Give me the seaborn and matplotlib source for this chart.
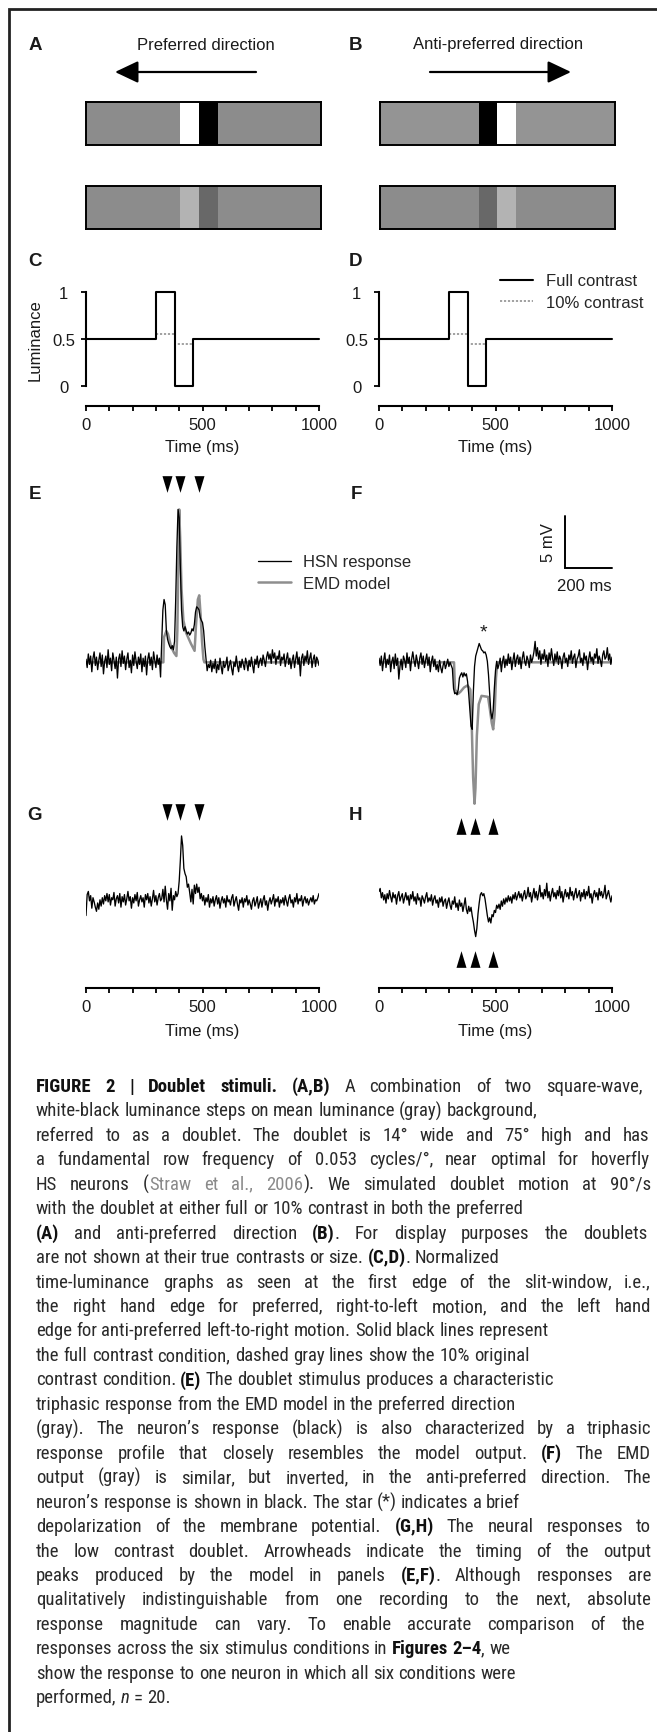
import re
import numpy as np
import seaborn as sns
import matplotlib.pyplot as plt
from matplotlib import font_manager

W, H, DPI = 657, 1733, 100

# ---------------- data ----------------
# doublet stripes: (luminance shown, width in stripe units)
pref_full = [(0.55, 20), (1.0, 4), (0.0, 4), (0.55, 22)]
pref_low = [(0.55, 20), (0.70, 4), (0.41, 4), (0.55, 22)]
anti_full = [(0.58, 21), (0.0, 4), (1.0, 4), (0.58, 21)]
anti_low = [(0.55, 21), (0.41, 4), (0.70, 4), (0.55, 21)]

# time-luminance at the first edge of the slit-window
lum_time = [0, 300, 380, 460, 1000]
lum_full = [0.5, 1.0, 0.0, 0.5, 0.5]
lum_low_time = [300, 380, 460]
lum_low = [0.55, 0.45, 0.45]

# recorded HSN responses (mV), one sample every 5 ms from 0 to 1000 ms
trace_time = np.arange(0, 1001, 5)
hsn_e = [
    0.3, -0.5, 0.8, -0.2, 0.6, -0.9, 0.4, 1.0, -0.3, 0.5,
    -0.7, 0.2, 0.9, -0.4, 0.7, -1.1, 0.1, 0.6, -0.5, 1.2,
    -0.2, 0.4, -0.8, 0.9, 0.2, -0.6, 0.5, -1.5, 0.3, 0.8,
    -0.4, 1.1, -0.1, 0.6, -0.7, 0.3, 0.9, -0.5, 0.2, -1.0,
    0.7, -0.3, 1.0, 0.1, -0.6, 0.5, -0.2, 0.8, -0.9, 0.4,
    -0.4, 0.6, -1.2, 0.3, 0.9, -0.3, 0.5, -0.7, 1.0, 0.2,
    -0.5, 0.7, -0.2, 0.4,
    -1.4, 2.0, 5.0, 6.0, 5.5, 3.0, 2.2, 1.8, 1.5, 1.3,
    1.6, 1.2, 2.0, 6.0, 11.0, 14.6, 13.8, 9.0, 5.0, 3.4,
    3.0, 3.4, 3.0, 2.7, 2.9, 2.6, 2.8, 3.2, 3.0, 3.6,
    4.8, 5.3, 5.2, 5.0, 4.3, 4.0, 3.8, 3.0, 1.5, 0.4,
    -0.8, -0.2,
    -0.5, 0.2, -0.9, -0.1, -0.6, 0.3, -1.0, -0.2, -0.7, 0.4,
    -0.4, -1.1, 0.1, -0.5, -0.2, 0.5, -0.8, -0.3, 0.2, -0.6,
    -1.2, 0.0, -0.4, 0.6, -0.3, -0.9, 0.1, -0.5, 0.3, -0.2,
    -0.7, 0.4, -0.1, -0.8, 0.2, -0.4, 0.5, -0.3, -1.0, 0.3,
    -0.2, 0.6, -0.5, 0.1, 0.4, -0.3, 0.7, 0.2, -0.4, 0.5,
    1.0, 0.3, 0.8, -0.1, 1.2, 0.4, 0.9, -0.2, 0.6, 0.3,
    1.1, -0.3, 0.5, 0.2, 0.8, -0.4, 0.3, 0.9, -0.2, 0.4,
    -0.6, 0.2, 0.7, -0.5, 0.3, 1.0, -0.2, 0.5, -1.3, 0.4,
    0.8, -0.3, 0.6, 0.1, 1.1, -0.2, 0.4, 0.9, -0.5, 0.3,
    0.7, -0.4, 0.5, 0.2, -0.3,
]
hsn_f = [
    0.4, -0.3, 0.6, -0.8, 0.2, 0.9, -0.5, 0.3, -0.2, 0.7,
    -0.9, 0.1, 0.5, -0.6, 0.8, -0.3, 0.4, -1.6, -0.4, 0.3,
    -0.7, 0.6, 0.2, -0.5, 0.9, -0.1, 0.5, -0.8, 0.3, 1.0,
    0.2, -0.4, 0.7, 0.1, -0.6, 0.4, 0.9, -0.2, 0.6, -0.5,
    0.2, 0.8, -0.3, 0.5, -0.9, 0.1, 0.6, -0.4, 0.3, -0.7,
    -0.2, -0.9, 0.2, -0.5, -1.0, -0.3, 0.1, -0.6, -0.2, 0.3,
    -0.4, 0.0, -0.3,
    -0.6, -2.5, -3.0, -2.9, -3.1, -2.6, -1.5, -1.2, -1.0, -1.4,
    -1.0, -1.3, -1.1, -1.8, -3.0, -4.5, -6.1, -6.4, -2.8, -0.4,
    0.6, 1.0, 1.4, 1.8, 1.5, 1.2, 1.1, 0.9, 1.0, 0.7,
    0.1, -1.2, -3.0, -4.8, -5.4, -4.6, -2.5, -0.8, 0.1, -0.6,
    -0.2, 0.4, -0.9, 0.1, 0.6, -0.5, 0.3, -0.3, 0.8, -0.1,
    0.5, -0.7, 0.2, 0.9, -0.4, 0.3, 0.7, -0.2, 0.5, -0.6,
    0.4, 1.0, 0.1, -0.3, 0.6, 0.2, -0.5, 0.7, 0.0, 0.4,
    1.0, 2.0, 0.6, 1.4, 0.3, 1.1, -0.2, 0.8, 0.3, 1.2,
    0.1, 0.7, -0.4, 0.9, 0.2, 1.3, 0.4, -0.3, 0.8, 0.1,
    1.0, -0.2, 0.6, 0.3, -0.6, 0.5, 0.9, 0.0, 0.4, -0.4,
    0.7, 0.2, 1.1, -0.1, 0.5, 0.8, -0.5, 0.3, 0.6, 1.2,
    0.0, 0.4, -0.3, 0.9, 0.2, 0.6, -0.7, 0.3, 1.0, 0.1,
    0.5, -0.2, 0.8, 0.4, 1.3, -0.1, 0.6, 0.2, -0.4, 0.7,
    1.1, 0.3, 0.5, 1.4, 0.2, 0.8, -0.2, 0.5,
]
hsn_g = [
    -1.1, 0.9, 1.2, 0.3, 0.8, -0.4, 0.6, 0.2, -0.3, -0.7,
    0.1, -0.5, 0.4, -0.2, 0.6, 0.0, 0.8, 0.3, 1.0, 0.2,
    0.9, -0.1, 0.6, 0.4, 1.1, -0.2, 0.5, 0.8, 0.1, 1.0,
    -0.3, 0.7, 0.2, 0.9, -0.1, 0.5, 1.2, 0.3, 0.7, -0.4,
    0.6, 0.1, 0.9, 0.3, 1.1, -0.2, 0.4, 0.8, 0.2, 0.6,
    -0.3, 0.9, 0.4, 1.0, 0.1, 0.7, -0.2, 0.5, 1.3, 0.2,
    0.8, -0.1, 0.6, 1.0, 0.3, 0.5, 1.4, 0.2, 1.7, 0.4,
    -0.5, 1.0,
    0.3, 1.5, -0.6, 0.8, 0.4, 1.2, 0.7, 1.0, 2.2, 4.2,
    6.5, 5.6, 3.4, 2.9, 2.6, 1.6, 1.9, 1.1, 0.2, 1.4,
    0.0, 1.8, 1.0, 1.9, 1.1, 1.6, 0.5,
    1.0, 0.3, 0.8, -0.1, 0.6, 0.2, 0.9, -0.3, 0.5, 0.1,
    0.7, -0.2, 0.4, 0.8, 0.0, 0.6, -0.4, 0.3, 0.7, 0.1,
    0.5, -0.3, 0.8, 0.2, 0.4, -0.1, 0.6, 0.9, -0.2, 0.3,
    0.7, 0.0, -0.6, 0.4, 0.1, 0.6, -0.3, 0.5, 0.2, 0.8,
    -0.1, 0.4, 0.0, -0.5, 0.3, 0.6, -0.2, 0.2, 0.7, -0.4,
    0.1, 0.5, -0.3, 0.4, 0.8, -0.1, 0.3, -0.6, 0.2, 0.6,
    0.0, 0.4, 0.9, -0.2, 0.5, 0.2, 0.7, -0.3, 0.4, 0.1,
    0.6, -0.1, 0.8, 0.3, -0.2, 0.5, 0.9, 0.1, 0.4, -0.3,
    0.6, 0.2, 1.0, 0.0, 0.5, 0.3, 0.8, -0.2, 0.4, 0.7,
    0.1, 0.5, -0.1, 0.3, 0.6, 0.2, 0.8, 0.0, 0.4, 0.3,
    0.6, 1.0,
]
hsn_h = [
    0.9, 1.2, 0.3, 0.8, 0.1, 0.6, -0.2, 0.7, 0.2, 1.0,
    0.4, -0.1, 0.8, 0.3, 0.6, -0.3, 0.5, 0.9, 0.0, 0.4,
    0.7, -0.2, 0.3, 0.8, 0.1, 0.5, -0.4, 0.6, 0.2, 0.9,
    0.0, 0.4, -0.3, 0.7, 0.1, 0.3, -0.5, 0.5, 0.2, -0.2,
    0.4, 0.8, -0.1, 0.3, 0.0, 0.6, -0.4, 0.2, 0.5, -0.2,
    0.1, -0.6, 0.3, -0.1, 0.4, -0.5, 0.0, 0.2, -0.7, -0.1,
    0.3, -0.4, -0.8, 0.0, -0.3, 0.4, -0.6, -0.2, -0.9, 0.1,
    -0.5, -0.2, -1.0, -0.4, 0.3,
    -0.8, -1.2, -0.5, -1.0, -0.6, -1.4, -2.0, -2.8, -3.4, -2.6,
    -1.2, -0.2, 0.6, 0.8, 0.5, 0.7, 0.2, -0.6, -1.4, -2.0,
    -1.6, -2.1, -1.3, -1.5, -0.9, -1.1, -0.4, -0.7,
    -0.3, -0.8, 0.0, -0.5, 0.2, -0.3, 0.3, -0.1, 0.5, 0.0,
    0.4, -0.2, 0.6, 0.2, 0.8, 0.1, 0.5, 0.9, 0.3, 0.7,
    0.0, 0.6, 1.0, 0.2, 0.5, 1.3, 0.4, 0.8, -0.1, 0.6,
    1.2, 0.3, 0.9, 0.1, 0.7, 1.5, 0.4, 0.8, 0.2, 1.1,
    0.5, 1.7, 0.3, 0.9, 0.0, 0.7, 1.2, 0.4, 0.8, 0.2,
    1.0, 0.5, 1.4, 0.3, 0.9, -0.1, 0.6, 1.1, 0.4, 0.8,
    0.2, 1.3, 0.5, 0.9, 0.1, 0.7, 1.2, 0.3, 0.6, 1.0,
    0.0, 0.8, 0.4, 1.1, 0.2, 0.9, 0.5, 1.4, 0.3, 0.7,
    -0.2, 0.6, 1.0, 0.4, 0.8, 0.1, 1.2, 0.5, 0.9, 0.3,
    0.7, 1.5, 0.2, 0.6, 1.0, 0.4, -0.1, 0.5,
]

# EMD model output (mV)
model_e_time = [0, 332, 335, 345, 352, 365, 378, 388, 392, 396, 400, 404, 410,
                418, 430, 450, 466, 472, 480, 486, 492, 498, 504, 508, 1000]
model_e_mv = [0, 0, 2.4, 3.0, 2.7, 1.5, 0.9, 0.6, 3.0, 9.0, 14.6, 12.0, 7.0,
              4.0, 2.8, 1.8, 1.1, 3.5, 6.0, 6.4, 4.5, 2.0, 0.3, 0, 0]
model_f_time = [0, 322, 326, 340, 350, 365, 380, 392, 398, 404, 410, 414, 420,
                428, 440, 468, 476, 484, 490, 496, 502, 508, 1000]
model_f_mv = [0, 0, -2.6, -3.0, -2.8, -2.4, -2.2, -2.6, -6.0, -11.0, -13.5, -12.0, -7.0,
              -4.0, -3.2, -3.3, -4.5, -5.8, -6.4, -5.0, -1.5, 0, 0]

# model output peaks (arrowheads), ms
peaks_pref = [346, 403, 484]
peaks_anti = [353, 411, 488]

scale_mv, scale_ms = 5, 200

caption_lines = [
    "**FIGURE 2 | Doublet stimuli. (A,B)** A combination of two square-wave,",
    "white-black luminance steps on mean luminance (gray) background,",
    "referred to as a doublet. The doublet is 14° wide and 75° high and has",
    "a fundamental row frequency of 0.053 cycles/°, near optimal for hoverfly",
    "HS neurons (~~Straw et al., 2006~~). We simulated doublet motion at 90°/s",
    "with the doublet at either full or 10% contrast in both the preferred",
    "**(A)** and anti-preferred direction **(B)**. For display purposes the doublets",
    "are not shown at their true contrasts or size. **(C,D)**. Normalized",
    "time-luminance graphs as seen at the first edge of the slit-window, i.e.,",
    "the right hand edge for preferred, right-to-left motion, and the left hand",
    "edge for anti-preferred left-to-right motion. Solid black lines represent",
    "the full contrast condition, dashed gray lines show the 10% original",
    "contrast condition. **(E)** The doublet stimulus produces a characteristic",
    "triphasic response from the EMD model in the preferred direction",
    "(gray). The neuron’s response (black) is also characterized by a triphasic",
    "response profile that closely resembles the model output. **(F)** The EMD",
    "output (gray) is similar, but inverted, in the anti-preferred direction. The",
    "neuron’s response is shown in black. The star (*) indicates a brief",
    "depolarization of the membrane potential. **(G,H)** The neural responses to",
    "the low contrast doublet. Arrowheads indicate the timing of the output",
    "peaks produced by the model in panels **(E,F)**. Although responses are",
    "qualitatively indistinguishable from one recording to the next, absolute",
    "response magnitude can vary. To enable accurate comparison of the",
    "responses across the six stimulus conditions in **Figures 2–4**, we",
    "show the response to one neuron in which all six conditions were",
    "performed,  __n__ = 20.",
]
caption_right = [643, 568, 649, 650, 651, 616, 647, 582, 651, 651, 630, 618, 633,
                 618, 651, 651, 651, 578, 651, 651, 651, 651, 645, 511, 620, None]

# ---------------- style ----------------
sns.set_theme(style="ticks")
plt.rcParams["font.family"] = ["Liberation Sans", "DejaVu Sans"]
GRAY = "#8e8e8e"
INK = "#1a1a1a"
FS = 12

fig = plt.figure(figsize=(W / DPI, H / DPI), dpi=DPI, facecolor="white")
renderer = fig.canvas.get_renderer()


def add_ax(left, top, width, height, **kw):
    ax = fig.add_axes([left / W, 1 - (top + height) / H, width / W, height / H], **kw)
    ax.patch.set_visible(False)
    return ax


def fy(y):
    return 1 - y / H


# overlay for frame and arrows
ax0 = add_ax(0, 0, W, H, zorder=-1)
ax0.set_xlim(0, W)
ax0.set_ylim(H, 0)
ax0.axis("off")
ax0.plot([9, 9, W], [H, 10, 10], color="#222222", lw=2.0, solid_joinstyle="miter")

arrow_kw = dict(arrowstyle="-|>,head_length=0.95,head_width=0.45", mutation_scale=15,
                lw=1.6, color="black", shrinkA=0, shrinkB=0)
ax0.annotate("", xy=(115, 73), xytext=(256, 73), arrowprops=arrow_kw)
ax0.annotate("", xy=(571, 73), xytext=(430, 73), arrowprops=arrow_kw)
fig.text(206 / W, fy(45), "Preferred direction", ha="center", va="center", fontsize=FS, color=INK)
fig.text(498 / W, fy(44), "Anti-preferred direction", ha="center", va="center", fontsize=FS, color=INK)

for lab, x, y in [("A", 35, 45), ("B", 356, 45), ("C", 35, 262), ("D", 356, 262),
                  ("E", 35, 495), ("F", 356, 495), ("G", 35, 815), ("H", 356, 815)]:
    fig.text(x / W, fy(y), lab, fontsize=13.5, fontweight="bold", ha="center", va="center", color=INK)

# ---------------- A, B stimuli ----------------
for left, top, prof in [(86, 103, pref_full), (86, 187, pref_low),
                        (380, 103, anti_full), (380, 187, anti_low)]:
    ax = add_ax(left, top, 235, 43)
    row = np.repeat([p[0] for p in prof], [p[1] for p in prof])[None, :]
    sns.heatmap(row, ax=ax, cmap="gray", vmin=0, vmax=1, cbar=False,
                xticklabels=False, yticklabels=False)
    for s in ax.spines.values():
        s.set_visible(True)
        s.set_linewidth(1.4)
        s.set_color("black")

# ---------------- C, D luminance ----------------
for left, first in [(86, True), (379, False)]:
    ax = add_ax(left, 293, 233, 94)
    sns.lineplot(x=lum_low_time, y=lum_low, ax=ax, color="#9a9a9a", lw=1.3,
                 linestyle=(0, (1.2, 1.0)), drawstyle="steps-post", estimator=None,
                 legend=False, zorder=1, label="10% contrast")
    sns.lineplot(x=lum_time, y=lum_full, ax=ax, color="black", lw=1.5,
                 drawstyle="steps-post", estimator=None, legend=False, clip_on=False,
                 zorder=2, label="Full contrast")
    ax.set_xlim(0, 1000)
    ax.set_ylim(0, 1)
    ax.spines["top"].set_visible(False)
    ax.spines["right"].set_visible(False)
    ax.spines["bottom"].set_position(("outward", 14.4))
    for s in ("left", "bottom"):
        ax.spines[s].set_linewidth(1.5)
        ax.spines[s].set_color("black")
    ax.set_xticks([0, 500, 1000])
    ax.set_xticks(range(0, 1001, 100), minor=True)
    ax.set_yticks([0, 0.5, 1])
    ax.set_yticklabels(["0", "0.5", "1"])
    ax.tick_params(which="both", direction="out", length=3.6, width=1.3, labelsize=FS,
                   colors="black", labelcolor=INK, bottom=True, left=True)
    ax.tick_params(axis="x", pad=4)
    ax.tick_params(axis="y", pad=12.5)
    for t in ax.get_yticklabels():
        t.set_ha("center")
    ax.set_xlabel("Time (ms)", fontsize=FS, color=INK)
    ax.xaxis.set_label_coords(0.5, -0.56)
    if first:
        ax.set_ylabel("Luminance", fontsize=FS, color=INK)
        ax.yaxis.set_label_coords(-0.185, 0.5)
    else:
        ax.set_ylabel("")
        h = ax.get_lines()
        ax.legend([h[1], h[0]], ["Full contrast", "10% contrast"], loc="upper left",
                  bbox_to_anchor=(500 / W, fy(274.5)), bbox_transform=fig.transFigure,
                  frameon=False, borderpad=0, borderaxespad=0, handlelength=2.0,
                  handletextpad=0.75, labelspacing=0.4, fontsize=FS)

# ---------------- E-H responses ----------------
tri_down = [(-0.3, 0.5), (0.3, 0.5), (0.0, -0.5)]
tri_up = [(-0.3, -0.5), (0.3, -0.5), (0.0, 0.5)]

ax_e = add_ax(86, 495.8, 233, 324.6)
ax_f = add_ax(379, 495.8, 233, 324.6)
for ax, mt, mv, rec in [(ax_e, model_e_time, model_e_mv, hsn_e),
                        (ax_f, model_f_time, model_f_mv, hsn_f)]:
    sns.lineplot(x=mt, y=mv, ax=ax, color=GRAY, lw=1.8, estimator=None,
                 legend=False, label="EMD model")
    sns.lineplot(x=trace_time, y=rec, ax=ax, color="black", lw=0.95, estimator=None,
                 legend=False, label="HSN response")
    ax.set_xlim(0, 1000)
    ax.set_ylim(-15, 16)
    ax.axis("off")

sns.scatterplot(x=peaks_pref, y=[17.0] * 3, ax=ax_e, marker=tri_down, s=144,
                color="black", linewidth=0, clip_on=False, legend=False, zorder=5)
sns.scatterplot(x=peaks_anti, y=[-15.6] * 3, ax=ax_f, marker=tri_up, s=144,
                color="black", linewidth=0, clip_on=False, legend=False, zorder=5)

le = ax_e.get_lines()
ax_e.legend([le[1], le[0]], ["HSN response", "EMD model"], loc="upper left",
            bbox_to_anchor=(257.6 / W, fy(555.5)), bbox_transform=fig.transFigure,
            frameon=False, borderpad=0, borderaxespad=0, handlelength=2.0,
            handletextpad=0.7, labelspacing=0.38, fontsize=FS)

# scale bar and star in F
ax_f.plot([800, 800, 800 + scale_ms], [9 + scale_mv, 9, 9], color="black", lw=1.4,
          clip_on=False, solid_joinstyle="miter")
ax_f.text(729, 11.5, f"{scale_mv} mV", rotation=90, ha="center", va="center", fontsize=FS, color=INK)
ax_f.text(880, 7.3, f"{scale_ms} ms", ha="center", va="center", fontsize=FS, color=INK)
ax_f.text(450, 2.5, "*", ha="center", va="baseline", fontsize=14, color=INK)

for left, zero, rec, peaks, marker, my in [(86, 905, hsn_g, peaks_pref, tri_down, 8.8),
                                           (379, 902, hsn_h, peaks_anti, tri_up, -5.5)]:
    ax = add_ax(left, zero - 8 * 10.47, 233, 14 * 10.47)
    sns.lineplot(x=trace_time, y=rec, ax=ax, color="black", lw=0.95, estimator=None,
                 legend=False)
    sns.scatterplot(x=peaks, y=[my] * 3, ax=ax, marker=marker, s=144, color="black",
                    linewidth=0, clip_on=False, legend=False)
    ax.set_xlim(0, 1000)
    ax.set_ylim(-6, 8)
    for s in ("top", "right", "left"):
        ax.spines[s].set_visible(False)
    bottom_px = zero + 6 * 10.47
    ax.spines["bottom"].set_position(("outward", (989 - bottom_px) * 72 / DPI))
    ax.spines["bottom"].set_linewidth(1.5)
    ax.spines["bottom"].set_color("black")
    ax.set_yticks([])
    ax.set_xticks([0, 500, 1000])
    ax.set_xticks(range(0, 1001, 100), minor=True)
    ax.tick_params(axis="x", which="both", direction="out", length=3.6, width=1.3,
                   labelsize=FS, colors="black", labelcolor=INK, bottom=True, pad=4)
    ax.set_xlabel("Time (ms)", fontsize=FS, color=INK)
    ax.xaxis.set_label_coords(0.5, (bottom_px - 1024) / (14 * 10.47))
    ax.set_ylabel("")

# ---------------- caption ----------------
names = {f.name for f in font_manager.fontManager.ttflist}
CAP_FONT = dict(family=["Liberation Sans", "DejaVu Sans"])
for cand in ["Liberation Sans Narrow", "Roboto Condensed", "Open Sans Condensed",
             "Noto Sans Condensed", "DejaVu Sans Condensed"]:
    if cand in names:
        CAP_FONT = dict(family=[cand, "Liberation Sans", "DejaVu Sans"])
        break
else:
    for e in font_manager.fontManager.ttflist:
        if e.name in ("Noto Sans", "Roboto", "Open Sans") and e.stretch == "condensed":
            CAP_FONT = dict(family=[e.name, "Liberation Sans", "DejaVu Sans"],
                            fontstretch="condensed")
            break
LEFT, RIGHT = 36, 651


def cap_style(key):
    bold, ital, link = key
    kw = dict(CAP_FONT, color="#2a2a2a")
    if bold:
        kw.update(fontweight="bold", color="#111111")
    if ital:
        kw["fontstyle"] = "italic"
    if link:
        kw["color"] = "#8a8a8a"
    return kw


def parse(line):
    words, bold, ital, link, new = [], False, False, False, True
    for piece in re.split(r"(\*\*|__|~~)", line):
        if piece == "**":
            bold = not bold
            continue
        if piece == "__":
            ital = not ital
            continue
        if piece == "~~":
            link = not link
            continue
        for k, p in enumerate(piece.split(" ")):
            if k > 0:
                new = True
            if p:
                if new:
                    words.append([])
                words[-1].append((p, (bold, ital, link)))
                new = False
    return words


def width(txt, key, size):
    t = fig.text(0.5, 0.5, txt, fontsize=size, **cap_style(key))
    w = t.get_window_extent(renderer).width
    t.remove()
    return max(float(w), 0.0)


def space(size):
    k = (False, False, False)
    return width("x x", k, size) - width("xx", k, size)


def natural(words, size):
    return sum(width(t, k, size) for w in words for t, k in w) + space(size) * (len(words) - 1)


parsed = [parse(l) for l in caption_lines]
# the unjustified line "responses across ... we" spans 36 -> 511 px in the original
cap_size = 12 * 475 / natural(parsed[23], 12)

sp = space(cap_size)
for i, (words, right) in enumerate(zip(parsed, caption_right)):
    base = 1092 + 24.45 * i
    widths = [[width(t, k, cap_size) for t, k in w] for w in words]
    total = sum(sum(ws) for ws in widths)
    n_gap = max(len(words) - 1, 1)
    gap = sp
    if right is not None and right >= 640:
        gap = (right - LEFT - total) / n_gap
    # never run past the right edge of the column
    gap = max(min(gap, (RIGHT - LEFT - total) / n_gap), 0.35 * sp)
    x = LEFT
    for w, ws in zip(words, widths):
        for (t, k), wi in zip(w, ws):
            fig.text(x / W, fy(base), t, fontsize=cap_size, ha="left", va="baseline", **cap_style(k))
            x += wi
        x += gap

fig.savefig("out.png", dpi=DPI, facecolor="white")
